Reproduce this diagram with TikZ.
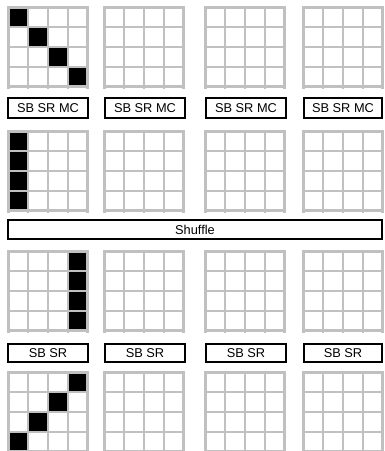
\documentclass[tikz,border=0pt]{standalone}
\usepackage{fontspec}
\setmainfont{Liberation Sans}
\definecolor{gridgray}{RGB}{192,192,192}
\newcommand{\cellgrid}[2]{%
  \foreach \i in {0,...,4}{%
    \draw[gridline] ({#1+1.3+\i*19.85},#2) -- ++(0,83);
    \draw[gridline] (#1,{#2+1.3+\i*19.85}) -- ++(82,0);
  }}
\newcommand{\blk}[4]{%
  \fill[blackcell] ({#1+1.3+#3*19.85},{#2+1.3+#4*19.85}) rectangle ++(19.85,19.85);}
\begin{document}
\begin{tikzpicture}[x=1pt,y=-1pt,
  opbox/.style={draw=black, line width=2pt, fill=white, inner sep=0pt,
    font=\fontsize{12.8}{14}\selectfont, text=black},
  gridline/.style={draw=gridgray, line width=2.6pt},
  blackcell/.style={fill=black}]
\useasboundingbox (0,0) rectangle (384,451);
\fill[white] (0,0) rectangle (384,451);
\clip (0,0) rectangle (384,451);
% black cells
\foreach \k in {0,...,3}{\blk{7}{6}{\k}{\k}}
\foreach \k in {0,...,3}{\blk{7}{130}{0}{\k}}
\foreach \k in {0,...,3}{\blk{7}{250}{3}{\k}}
\foreach \k [evaluate=\k as \r using int(3-\k)] in {0,...,3}{\blk{7}{371}{\k}{\r}}
% grids
\foreach \gx in {7,103,204,302}{
  \foreach \gy in {6,130,250,371}{
    \cellgrid{\gx}{\gy}
  }}
% operation boxes
\node[opbox, minimum width=80pt, minimum height=20pt] (a1) at (48,108) {SB SR MC};
\node[opbox, minimum width=80pt, minimum height=20pt] (a2) at (145,108) {SB SR MC};
\node[opbox, minimum width=80pt, minimum height=20pt] (a3) at (246,108) {SB SR MC};
\node[opbox, minimum width=78pt, minimum height=20pt] (a4) at (343,108) {SB SR MC};
\node[opbox, minimum width=374pt, minimum height=19.5pt] (sh) at (195,229.5) {Shuffle};
\node[opbox, minimum width=80pt, minimum height=18.5pt] (b1) at (48,353) {SB SR};
\node[opbox, minimum width=80pt, minimum height=18.5pt] (b2) at (145,353) {SB SR};
\node[opbox, minimum width=80pt, minimum height=18.5pt] (b3) at (246,353) {SB SR};
\node[opbox, minimum width=78pt, minimum height=18.5pt] (b4) at (343,353) {SB SR};
\end{tikzpicture}
\end{document}
